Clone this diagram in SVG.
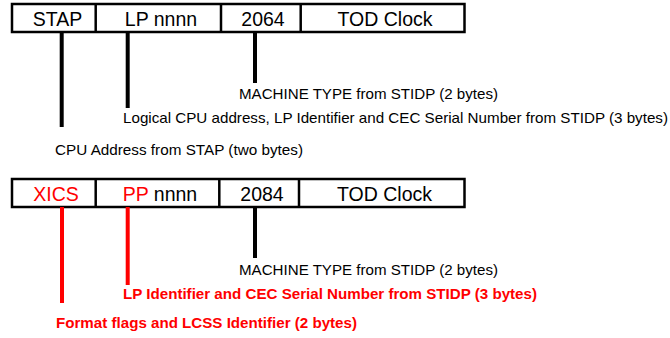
<svg xmlns="http://www.w3.org/2000/svg" width="670" height="338" viewBox="0 0 670 338">
<style>
.box{fill:#fff;stroke:#000;stroke-width:2.5}
.div{stroke:#000;stroke-width:2.5}
.f{font-family:"Liberation Sans",Arial,sans-serif;font-size:19.5px;fill:#000;text-anchor:middle}
.r{fill:#ff0000}
.lab{font-family:"Liberation Sans",Arial,sans-serif;font-size:15px;fill:#000}
.labr{font-family:"Liberation Sans",Arial,sans-serif;font-size:15px;font-weight:bold;fill:#ff0000}
.ln{stroke:#000;stroke-width:4}
.lnr{stroke:#ff0000;stroke-width:4}
</style>
<g id="record1">
<rect class="box" x="12" y="4" width="452.5" height="28"/>
<line class="div" x1="95.7" y1="4" x2="95.7" y2="32"/>
<line class="div" x1="221" y1="4" x2="221" y2="32"/>
<line class="div" x1="300.7" y1="4" x2="300.7" y2="32"/>
<text class="f" x="57.5" y="26">STAP</text>
<text class="f" x="161" y="26">LP nnnn</text>
<text class="f" x="263" y="26">2064</text>
<text class="f" x="385" y="26">TOD Clock</text>
</g>
<g id="record2">
<rect class="box" x="12" y="179" width="452.5" height="28"/>
<line class="div" x1="95.7" y1="179" x2="95.7" y2="207"/>
<line class="div" x1="219.3" y1="179" x2="219.3" y2="207"/>
<line class="div" x1="299" y1="179" x2="299" y2="207"/>
<text class="f r" x="56" y="201">XICS</text>
<text class="f" x="160" y="201"><tspan class="r">PP</tspan> nnnn</text>
<text class="f" x="262" y="201">2084</text>
<text class="f" x="384.5" y="201">TOD Clock</text>
</g>
<g id="connectors">
<line class="ln" x1="61.7" y1="32" x2="61.7" y2="127"/>
<line class="ln" x1="127.7" y1="32" x2="127.7" y2="108"/>
<line class="ln" x1="255" y1="32" x2="255" y2="83"/>
<line class="lnr" x1="62" y1="207" x2="62" y2="303"/>
<line class="lnr" x1="127.7" y1="207" x2="127.7" y2="285"/>
<line class="ln" x1="255" y1="207" x2="255" y2="258"/>
</g>
<g id="labels1">
<text class="lab" x="239" y="99" textLength="259" lengthAdjust="spacingAndGlyphs">MACHINE TYPE from STIDP (2 bytes)</text>
<text class="lab" x="123" y="123" textLength="545" lengthAdjust="spacingAndGlyphs">Logical CPU address, LP Identifier and CEC Serial Number from STIDP (3 bytes)</text>
<text class="lab" x="55" y="155" textLength="248" lengthAdjust="spacingAndGlyphs">CPU Address from STAP (two bytes)</text>
</g>
<g id="labels2">
<text class="lab" x="239" y="275" textLength="259" lengthAdjust="spacingAndGlyphs">MACHINE TYPE from STIDP (2 bytes)</text>
<text class="labr" x="123" y="299" textLength="414" lengthAdjust="spacingAndGlyphs">LP Identifier and CEC Serial Number from STIDP (3 bytes)</text>
<text class="labr" x="56" y="328" textLength="301" lengthAdjust="spacingAndGlyphs">Format flags and LCSS Identifier (2 bytes)</text>
</g>
</svg>
